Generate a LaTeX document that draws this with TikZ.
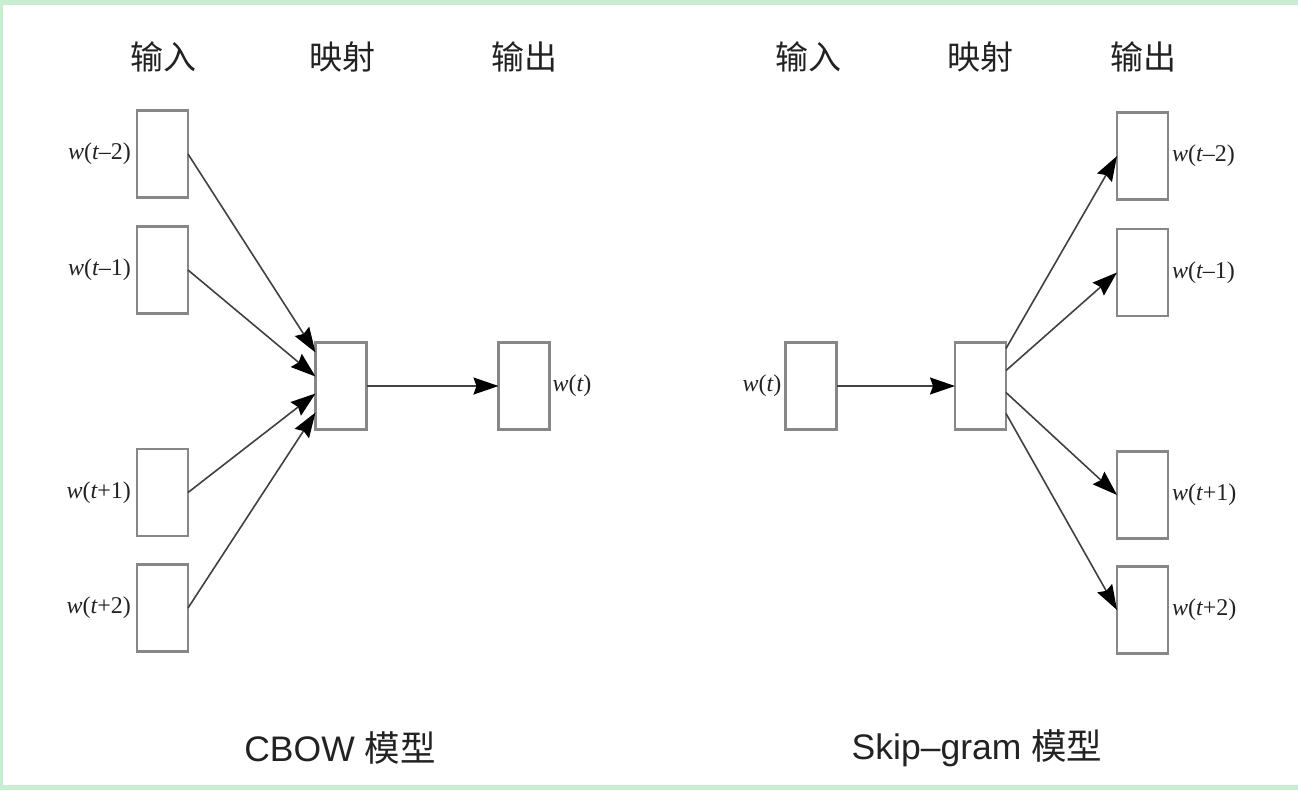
\documentclass[tikz,border=0pt]{standalone}
\usepackage{fontspec}
\setmainfont{Liberation Serif}
\newfontfamily\cjkf{Noto Sans CJK SC}
\newfontfamily\latsans{Liberation Sans}
\usetikzlibrary{arrows.meta,calc}
\definecolor{framegreen}{RGB}{200,237,208}
\definecolor{boxgray}{RGB}{135,135,135}
\definecolor{linegray}{RGB}{65,65,65}
\definecolor{txt}{RGB}{34,34,34}
\newcommand{\wl}[1]{{\itshape w}({\itshape t}#1)}
\begin{document}
\begin{tikzpicture}[x=1pt,y=-1pt,
  wbox/.style={draw=boxgray, line width=2.2pt, fill=white, minimum width=51pt, minimum height=87pt, inner sep=0pt, outer sep=0pt},
  wlab/.style={font=\fontsize{24}{24}\selectfont, text=txt, inner sep=0pt},
  head/.style={font=\cjkf\fontsize{33}{33}\selectfont, text=txt, inner sep=0pt},
  title/.style={font=\fontsize{35.5}{35.5}\selectfont, text=txt, inner sep=0pt},
  conn/.style={draw=linegray, line width=1.6pt, -{Stealth[length=25pt,width=17pt,inset=3pt,color=black]}}
]
\useasboundingbox (0,0) rectangle (1298,790);
\fill[framegreen] (0,0) rectangle (1298,790);
\fill[white] (3,5) rectangle (1298,785);

% headers
\node[head] (h1) at (163,57) {输入};
\node[head] (h2) at (342,57) {映射};
\node[head] (h3) at (524,57) {输出};
\node[head] (h4) at (808,57) {输入};
\node[head] (h5) at (980,57) {映射};
\node[head] (h6) at (1143,57) {输出};

% CBOW boxes
\node[wbox] (i1) at (162.5,154) {};
\node[wbox] (i2) at (162.5,270) {};
\node[wbox] (i3) at (162.5,492.5) {};
\node[wbox] (i4) at (162.5,608) {};
\node[wbox] (p) at (341,386) {};
\node[wbox] (o) at (524,386) {};

\node[wlab, anchor=east] (li1) at ([xshift=-6pt]i1.west) {\wl{–2}};
\node[wlab, anchor=east] (li2) at ([xshift=-6pt]i2.west) {\wl{–1}};
\node[wlab, anchor=east] (li3) at ([xshift=-6pt]i3.west) {\wl{+1}};
\node[wlab, anchor=east] (li4) at ([xshift=-6pt]i4.west) {\wl{+2}};
\node[wlab, anchor=west] (lo) at ([xshift=3pt]o.east) {\wl{}};

\draw[conn] (i1.east) -- ([yshift=33.5pt]p.west);
\draw[conn] (i2.east) -- ([yshift=9.5pt]p.west);
\draw[conn] (i3.east) -- ([yshift=-7.5pt]p.west);
\draw[conn] (i4.east) -- ([yshift=-26.5pt]p.west);
\draw[conn] (p.east) -- (o.west);

% Skip-gram boxes
\node[wbox] (si) at (811,386) {};
\node[wbox] (sp) at (980.5,386) {};
\node[wbox] (s1) at (1142.5,156) {};
\node[wbox] (s2) at (1142.5,272.5) {};
\node[wbox] (s3) at (1142.5,495) {};
\node[wbox] (s4) at (1142.5,610) {};

\node[wlab, anchor=east] (lsi) at ([xshift=-4pt]si.west) {\wl{}};
\node[wlab, anchor=west] (ls1) at ([xshift=4pt]s1.east) {\wl{–2}};
\node[wlab, anchor=west] (ls2) at ([xshift=4pt]s2.east) {\wl{–1}};
\node[wlab, anchor=west] (ls3) at ([xshift=4pt]s3.east) {\wl{+1}};
\node[wlab, anchor=west] (ls4) at ([xshift=4pt]s4.east) {\wl{+2}};

\draw[conn] (si.east) -- (sp.west);
\draw[conn] ([yshift=37.5pt]sp.east) -- (s1.west);
\draw[conn] ([yshift=15.5pt]sp.east) -- (s2.west);
\draw[conn] ([yshift=-6.5pt]sp.east) -- (s3.west);
\draw[conn] ([yshift=-27.5pt]sp.east) -- (s4.west);

% titles
\node[title] (t1) at (340,748) {\latsans CBOW {\cjkf 模型}};
\node[title] (t2) at (977,748) {\latsans Skip–gram {\cjkf 模型}};
\end{tikzpicture}
\end{document}
